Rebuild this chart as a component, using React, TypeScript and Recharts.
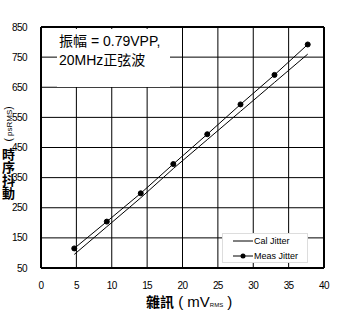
import { ComposedChart, Line, XAxis, YAxis, CartesianGrid, ReferenceLine } from "recharts";

const noise = [4.7, 9.3, 14.1, 18.7, 23.5, 28.2, 33.0, 37.7];
const measJitter = [115, 204, 298, 395, 494, 593, 691, 792];
const calJitter = [95, 187, 283, 380, 476, 570, 666, 760];
const xTicks = [0, 5, 10, 15, 20, 25, 30, 35, 40];
const yTicks = [50, 150, 250, 350, 450, 550, 650, 750, 850];

const chartData = noise.map((x, i) => ({
    x,
    cal: calJitter[i],
    meas: measJitter[i],
}));

const tickFont = { fontFamily: "'Liberation Sans', Arial, sans-serif", fontSize: 10, fill: "#000", letterSpacing: -0.6 };

const LegendBox = () => (
    <div style={{ position: "absolute", left: 222, top: 233, width: 86, height: 30, background: "#fff", border: "1px solid #ddd", boxSizing: "border-box", fontFamily: "'Liberation Sans', Arial, sans-serif", fontSize: 9, color: "#000" }}>
        <svg width={86} height={30} style={{ position: "absolute", left: 0, top: 0 }}>
            <line x1={10} y1={7} x2={30} y2={7} stroke="#000" strokeWidth={1} />
            <text x={31} y={10}>Cal Jitter</text>
            <line x1={10} y1={22} x2={30} y2={22} stroke="#000" strokeWidth={1} />
            <circle cx={20} cy={22} r={2.5} fill="#000" />
            <text x={31} y={25}>Meas Jitter</text>
        </svg>
    </div>
);

export default function App() {
    return (
        <div style={{ position: "absolute", left: 0, top: 0, width: 350, height: 311, background: "#fff" }}>
            <ComposedChart width={350} height={311} data={chartData} margin={{ top: 27, right: 26, left: 0, bottom: 18 }}>
                <CartesianGrid stroke="#000" strokeWidth={1} horizontalValues={yTicks} verticalValues={xTicks} />
                <XAxis type="number" dataKey="x" domain={[0, 40]} ticks={xTicks} tickLine={false} axisLine={{ stroke: "#000", strokeWidth: 2 }} tick={tickFont} tickMargin={8} height={25} />
                <YAxis type="number" domain={[50, 850]} ticks={yTicks} tickLine={false} axisLine={{ stroke: "#000", strokeWidth: 2 }} tick={tickFont} tickMargin={8} width={41} />
                <ReferenceLine y={850} stroke="#000" strokeWidth={2} />
                <ReferenceLine x={40} stroke="#000" strokeWidth={2} />
                <Line dataKey="cal" name="Cal Jitter" stroke="#000" strokeWidth={1} dot={false} isAnimationActive={false} />
                <Line dataKey="meas" name="Meas Jitter" stroke="#000" strokeWidth={1} dot={{ r: 2.5, fill: "#000", stroke: "#000" }} isAnimationActive={false} />
            </ComposedChart>

            <LegendBox />

            <div style={{ position: "absolute", left: 57, top: 29, width: 113, height: 58, background: "#fff", fontFamily: "'Liberation Sans', 'Noto Sans CJK TC', sans-serif", fontSize: 14, lineHeight: "19px", color: "#000", paddingTop: 3, paddingLeft: 2, boxSizing: "border-box", whiteSpace: "nowrap" }}>
                <div>振幅 = 0.79VPP,</div>
                <div>20MHz正弦波</div>
            </div>

            <div style={{ position: "absolute", left: 1, top: 148, width: 14, height: 54, writingMode: "vertical-rl", textOrientation: "upright", fontFamily: "'Noto Sans CJK TC', sans-serif", fontSize: 13, fontWeight: 700, lineHeight: "14px", color: "#000" }}>
                時序抖動
            </div>
            <div style={{ position: "absolute", left: -16, top: 117, width: 50, height: 14, transform: "rotate(-90deg)", fontFamily: "'Liberation Sans', Arial, sans-serif", fontSize: 10, color: "#000", textAlign: "center", lineHeight: "14px", whiteSpace: "nowrap" }}>
                (<span style={{ fontSize: 8 }}> psRMS</span>)
            </div>

            <div style={{ position: "absolute", left: 146, top: 294, width: 120, fontFamily: "'Noto Sans CJK TC', sans-serif", fontSize: 14, color: "#000", whiteSpace: "nowrap", lineHeight: "15px" }}>
                <span style={{ fontWeight: 700 }}>雜訊</span>
                <span style={{ fontFamily: "'Liberation Sans', Arial, sans-serif", fontSize: 15 }}> ( mV<span style={{ fontSize: 6 }}>RMS</span> )</span>
            </div>
        </div>
    );
}
